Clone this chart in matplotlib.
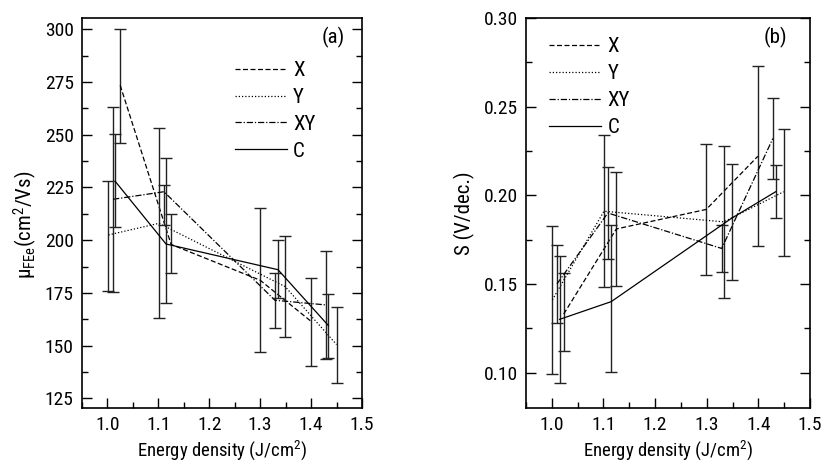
import matplotlib
matplotlib.use("Agg")
import matplotlib.pyplot as plt
from matplotlib.ticker import MultipleLocator, FormatStrFormatter

plt.rcParams['font.family'] = ['Liberation Sans Narrow', 'Roboto Condensed',
                               'Liberation Sans', 'DejaVu Sans']
plt.rcParams['mathtext.default'] = 'regular'

series = ["X", "Y", "XY", "C"]

# Panel (a): mobility
a_x = {"X": [1.025, 1.125, 1.300, 1.400],
       "Y": [1.002, 1.101, 1.349, 1.450],
       "XY": [1.011, 1.111, 1.329, 1.429],
       "C": [1.015, 1.115, 1.335, 1.434]}
a_y = {"X": [273.5, 198.0, 181.0, 161.5],
       "Y": [202.5, 208.0, 178.0, 150.5],
       "XY": [219.4, 223.0, 171.5, 169.3],
       "C": [228.0, 198.2, 186.0, 159.5]}
a_lo = {"X": [246.2, 184.3, 147.1, 140.4],
        "Y": [176.0, 163.3, 154.3, 132.4],
        "XY": [175.6, 207.2, 158.2, 143.5],
        "C": [206.1, 170.4, 172.4, 144.3]}
a_hi = {"X": [300.0, 212.3, 215.1, 182.2],
        "Y": [228.2, 253.1, 202.1, 168.2],
        "XY": [263.0, 226.2, 184.3, 195.0],
        "C": [250.2, 239.1, 200.1, 174.3]}

# Panel (b): subthreshold swing
b_x = {"X": [1.023, 1.125, 1.299, 1.399],
       "Y": [1.001, 1.101, 1.333, 1.449],
       "XY": [1.010, 1.1085, 1.329, 1.428],
       "C": [1.015, 1.115, 1.348, 1.4335]}
b_y = {"X": [0.133, 0.181, 0.192, 0.222],
       "Y": [0.141, 0.191, 0.185, 0.202],
       "XY": [0.150, 0.190, 0.170, 0.232],
       "C": [0.130, 0.140, 0.187, 0.202]}
b_lo = {"X": [0.1121, 0.1491, 0.1549, 0.1712],
        "Y": [0.0989, 0.1481, 0.1422, 0.1660],
        "XY": [0.1280, 0.1643, 0.1570, 0.2089],
        "C": [0.0943, 0.1003, 0.1520, 0.1869]}
b_hi = {"X": [0.1563, 0.2130, 0.2290, 0.2731],
        "Y": [0.1829, 0.2342, 0.2280, 0.2376],
        "XY": [0.1718, 0.2158, 0.1835, 0.2549],
        "C": [0.1656, 0.1835, 0.2179, 0.2169]}

styles = {"X": (0, (4, 2)), "Y": (0, (1, 1.6)), "XY": (0, (5, 1.5, 1, 1.5)), "C": "-"}

fig = plt.figure(figsize=(8.24, 4.68), dpi=100)
axA = fig.add_axes([82/824, 1-408/468, 280/824, 390/468])
axB = fig.add_axes([526/824, 1-408/468, 284/824, 390/468])

def draw(ax, xs, ys, los, his):
    for s in series:
        x = xs[s]; y = ys[s]
        lo = [yy - l for yy, l in zip(y, los[s])]
        hi = [h - yy for yy, h in zip(y, his[s])]
        ax.errorbar(x, y, yerr=[lo, hi], fmt='none', ecolor='#222222',
                    elinewidth=1.0, capsize=4, capthick=1.0)
        ax.plot(x, y, color='black', lw=0.9, linestyle=styles[s], label=s)

def style(ax):
    ax.set_xlim(0.95, 1.5)
    ax.xaxis.set_major_locator(MultipleLocator(0.1))
    ax.xaxis.set_minor_locator(MultipleLocator(0.05))
    ax.tick_params(axis='both', which='major', direction='in', length=7, width=1,
                   labelsize=14, pad=6)
    ax.tick_params(axis='both', which='minor', direction='in', length=4, width=1)
    ax.tick_params(axis='y', which='both', right=True, labelright=False)
    for sp in ax.spines.values():
        sp.set_linewidth(1.2)
    ax.set_xlabel('Energy density (J/cm$^2$)', fontsize=13.5, labelpad=3)
    ax.legend(loc='upper left', frameon=False, fontsize=15, handlelength=2.5,
              handletextpad=0.3, labelspacing=0.38, borderpad=0, borderaxespad=0)

draw(axA, a_x, a_y, a_lo, a_hi)
axA.set_ylim(120.4, 305.4)
axA.yaxis.set_major_locator(MultipleLocator(25))
axA.yaxis.set_minor_locator(MultipleLocator(12.5))
style(axA)
axA.get_legend().set_bbox_to_anchor((0.546, 0.890), transform=axA.transAxes)
axA.set_ylabel('μ$_{FEe}$(cm$^2$/Vs)', fontsize=15)
axA.yaxis.set_label_coords(-0.155, 0.47)
axA.text(0.896, 0.951, '(a)', transform=axA.transAxes, fontsize=15,
         ha='center', va='center')

draw(axB, b_x, b_y, b_lo, b_hi)
axB.set_ylim(0.08, 0.30)
axB.yaxis.set_major_locator(MultipleLocator(0.05))
axB.yaxis.set_minor_locator(MultipleLocator(0.025))
axB.yaxis.set_major_formatter(FormatStrFormatter('%.2f'))
style(axB)
axB.get_legend().set_bbox_to_anchor((0.081, 0.950), transform=axB.transAxes)
axB.set_ylabel('S (V/dec.)', fontsize=15)
axB.yaxis.set_label_coords(-0.18, 0.5)
axB.text(0.877, 0.951, '(b)', transform=axB.transAxes, fontsize=15,
         ha='center', va='center')

fig.savefig('out.png', dpi=100)
